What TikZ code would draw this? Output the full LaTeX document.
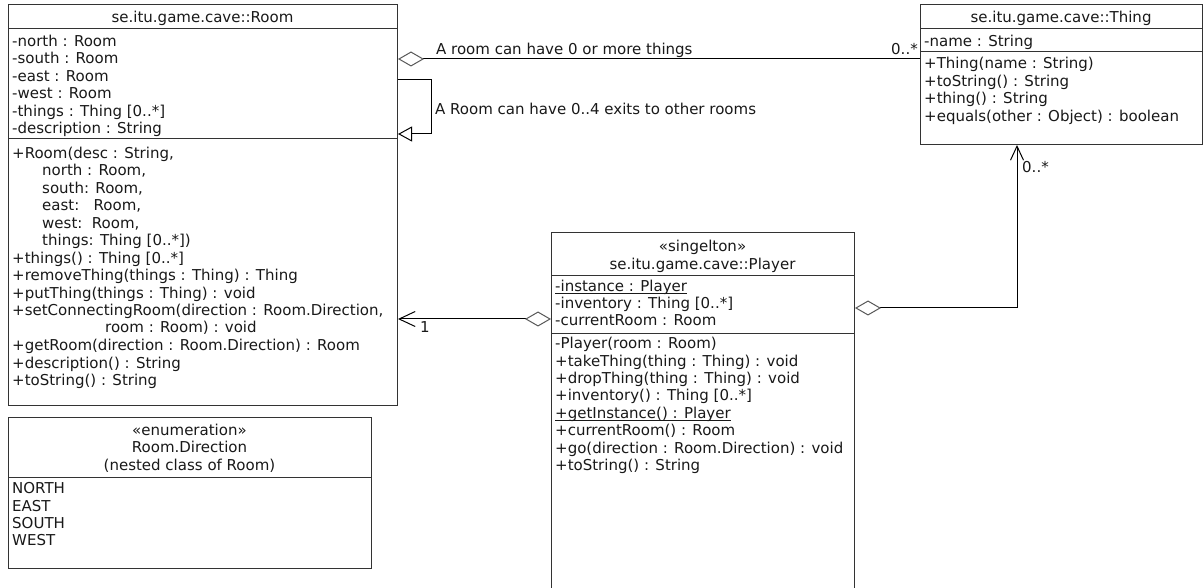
\documentclass[tikz,border=0pt]{standalone}
\usepackage{fontspec}
\setmainfont{DejaVu Sans}
\usetikzlibrary{arrows.meta}
\tikzset{
  agg/.tip={Diamond[open,length=26pt,width=15pt,color=black!65]},
  opentri/.tip={Triangle[open,length=14pt,width=15pt]},
  barb/.tip={Straight Barb[length=16pt,width=15pt]},
  barbb/.tip={Straight Barb[length=14pt,width=13pt]}
}
\begin{document}
\begin{tikzpicture}[x=1pt,y=-1pt,
  box/.style={draw=black!80, line width=1pt, anchor=north west, inner sep=0pt, fill=white},
  sep/.style={draw=black!80, line width=1pt},
  uline/.style={draw=black!90, line width=0.8pt},
  txt/.style={anchor=base west, inner sep=0pt, text=black!90, font=\fontsize{15}{17}\selectfont},
  ttl/.style={anchor=base, inner sep=0pt, text=black!90, font=\fontsize{15}{17}\selectfont},
  conn/.style={draw=black, line width=1pt}]
\clip (0,0) rectangle (1203,588);
\fill[white] (0,0) rectangle (1203,588);

% boxes
\node[box, minimum width=389pt, minimum height=401pt] (room) at (8,4) {};
\node[box, minimum width=282pt, minimum height=140pt] (thing) at (920,4) {};
\node[box, minimum width=303pt, minimum height=380pt] (player) at (551,232) {};
\node[box, minimum width=363pt, minimum height=151pt] (enum) at (8,417) {};

% separators
\draw[sep] (room.west |- 0,29) -- (room.east |- 0,29);
\draw[sep] (room.west |- 0,139) -- (room.east |- 0,139);
\draw[sep] (thing.west |- 0,29) -- (thing.east |- 0,29);
\draw[sep] (thing.west |- 0,52) -- (thing.east |- 0,52);
\draw[sep] (player.west |- 0,276) -- (player.east |- 0,276);
\draw[sep] (player.west |- 0,333) -- (player.east |- 0,333);
\draw[sep] (enum.west |- 0,477) -- (enum.east |- 0,477);

% Room
\node[ttl] (rt) at (202.5,23) {se.itu.game.cave::Room};
\node[txt] (ra1) at (12,46.5) {-north : Room};
\node[txt] (ra2) at (12,64) {-south : Room};
\node[txt] (ra3) at (12,81.5) {-east : Room};
\node[txt] (ra4) at (12,99) {-west : Room};
\node[txt] (ra5) at (12,116.5) {-things : Thing [0..*]};
\node[txt] (ra6) at (12,134) {-description : String};
\node[txt] (rm1) at (12,158.5) {+Room(desc : String,};
\node[txt] (rm2) at (42,176) {north : Room,};
\node[txt] (rm3) at (42,193.4) {south: Room,};
\node[txt] (rm4) at (42,210.9) {east:\ \ \ Room,};
\node[txt] (rm5) at (42,228.3) {west:\ \ Room,};
\node[txt] (rm6) at (42,245.8) {things: Thing [0..*])};
\node[txt] (rm7) at (12,263.2) {+things() : Thing [0..*]};
\node[txt] (rm8) at (12,280.7) {+removeThing(things : Thing) : Thing};
\node[txt] (rm9) at (12,298.1) {+putThing(things : Thing) : void};
\node[txt] (rm10) at (12,315.6) {+setConnectingRoom(direction : Room.Direction,};
\node[txt] (rm11) at (105,333) {room : Room) : void};
\node[txt] (rm12) at (12,350.5) {+getRoom(direction : Room.Direction) : Room};
\node[txt] (rm13) at (12,368) {+description() : String};
\node[txt] (rm14) at (12,385.4) {+toString() : String};

% Thing
\node[ttl] (tt) at (1061,23) {se.itu.game.cave::Thing};
\node[txt] (ta1) at (924,46.5) {-name : String};
\node[txt] (tm1) at (924,69) {+Thing(name : String)};
\node[txt] (tm2) at (924,86.4) {+toString() : String};
\node[txt] (tm3) at (924,103.8) {+thing() : String};
\node[txt] (tm4) at (924,121.2) {+equals(other : Object) : boolean};

% Player
\node[ttl] (ps) at (702.5,251.5) {«singelton»};
\node[ttl] (pt) at (702.5,269.5) {se.itu.game.cave::Player};
\node[txt] (pa1) at (555,291) {-instance : Player};
\draw[uline] ([yshift=-2.5pt]pa1.base west) -- ([yshift=-2.5pt]pa1.base east);
\node[txt] (pa2) at (555,308.5) {-inventory : Thing [0..*]};
\node[txt] (pa3) at (555,326) {-currentRoom : Room};
\node[txt] (pm1) at (555,348.5) {-Player(room : Room)};
\node[txt] (pm2) at (555,366) {+takeThing(thing : Thing) : void};
\node[txt] (pm3) at (555,383.4) {+dropThing(thing : Thing) : void};
\node[txt] (pm4) at (555,400.9) {+inventory() : Thing [0..*]};
\node[txt] (pm5) at (555,418.3) {+getInstance() : Player};
\draw[uline] ([yshift=-2.5pt]pm5.base west) -- ([yshift=-2.5pt]pm5.base east);
\node[txt] (pm6) at (555,435.8) {+currentRoom() : Room};
\node[txt] (pm7) at (555,453.2) {+go(direction : Room.Direction) : void};
\node[txt] (pm8) at (555,470.7) {+toString() : String};

% Enumeration
\node[ttl] (es) at (189.5,435) {«enumeration»};
\node[ttl] (en) at (189.5,452.5) {Room.Direction};
\node[ttl] (ec) at (189.5,470) {(nested class of Room)};
\node[txt] (e1) at (12,493.5) {NORTH};
\node[txt] (e2) at (12,511) {EAST};
\node[txt] (e3) at (12,528.4) {SOUTH};
\node[txt] (e4) at (12,545.9) {WEST};

% connectors
\coordinate (c1) at (0,59);
\draw[conn, {agg}-] (room.east |- c1) -- (thing.west |- c1);
\coordinate (c2) at (431,80);
\coordinate (c3) at (431,134);
\draw[conn, -{opentri}] (room.east |- c2) -- (c2) -- (c3) -- (room.east |- c3);
\coordinate (c4) at (0,319);
\draw[conn, {agg}-{barb}] (player.west |- c4) -- (room.east |- c4);
\coordinate (c5) at (1017,308);
\draw[conn, {agg}-{barbb}] (player.east |- c5) -| (thing.south -| c5);

% labels
\node[txt] (l1) at (436,55) {A room can have 0 or more things};
\node[txt] (l2) at (891,55) {0..*};
\node[txt] (l3) at (435,115) {A Room can have 0..4 exits to other rooms};
\node[txt] (l4) at (1022,173) {0..*};
\node[txt] (l5) at (420,333) {1};
\end{tikzpicture}
\end{document}
